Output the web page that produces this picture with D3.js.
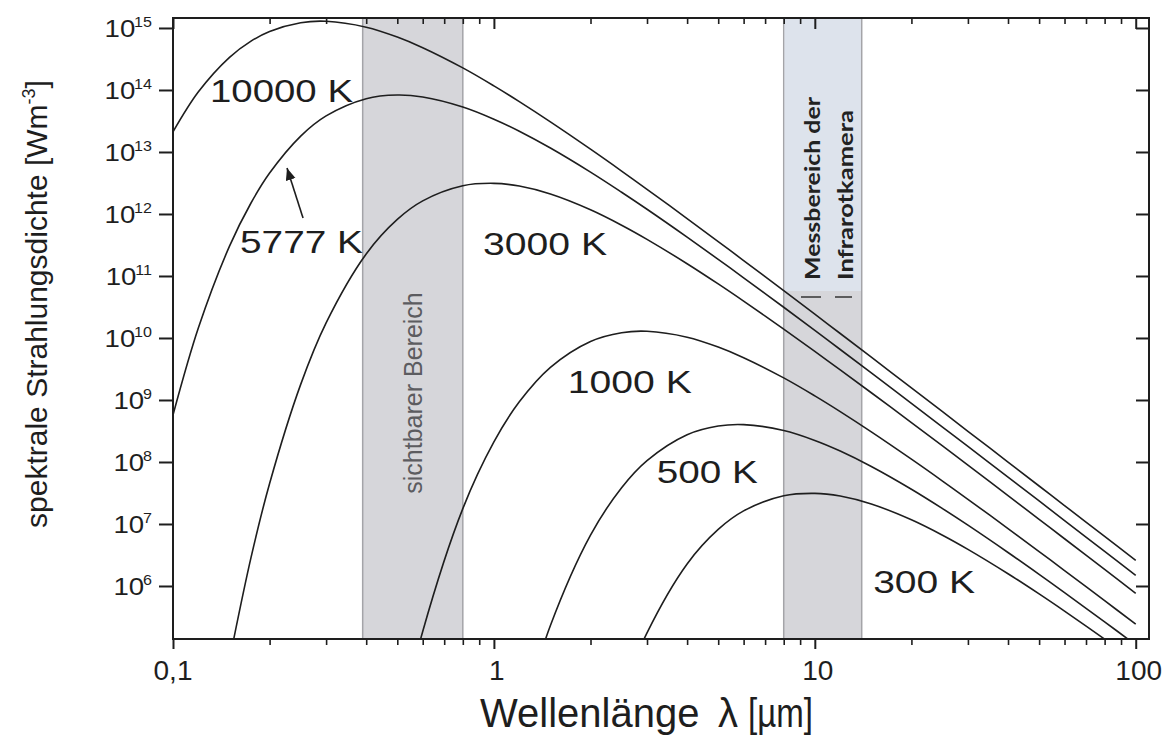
<!DOCTYPE html>
<html>
<head>
<meta charset="utf-8">
<script src="https://cdn.jsdelivr.net/npm/d3@7"></script>
<style>
html,body{margin:0;padding:0;background:#fff;}
svg{display:block;font-family:"Liberation Sans",Arial,Helvetica,sans-serif;}
</style>
</head>
<body>
<svg id="chart" width="1176" height="735"></svg>
<script>
// ---------------- data ----------------
const wavelengths = [0.1,0.12,0.15,0.175,0.2,0.25,0.3,0.4,0.5,0.6,0.8,1,1.2,1.5,2,2.5,3,4,5,6,8,10,12,15,20,25,30,40,50,60,80,100]; // µm
const temperatures = ["10000 K","5777 K","3000 K","1000 K","500 K","300 K"];
const T10000 = [2.11e13,9.33e13,3.36e14,6.13e14,8.79e14,1.217e15,1.283e15,1.030e15,7.14e14,4.81e14,2.27e14,1.164e14,6.49e13,3.06e13,1.110e13,4.93e12,2.50e12,8.44e11,3.59e11,1.776e11,5.80e10,2.42e10,1.181e10,4.90e9,1.568e9,6.47e8,3.13e8,9.98e7,4.10e7,1.983e7,6.30e6,2.58e6];
const T5777  = [5.71e8,1.457e10,3.03e11,1.503e12,4.57e12,1.806e13,3.82e13,7.24e13,8.28e13,7.70e13,5.31e13,3.38e13,2.16e13,1.157e13,4.73e12,2.24e12,1.191e12,4.23e11,1.855e11,9.35e10,3.13e10,1.323e10,6.52e9,2.73e9,8.82e8,3.66e8,1.779e8,5.69e7,2.35e7,1.136e7,3.61e6,1.484e6];
const T3000  = [null,null,6.41e4,2.86e6,4.50e7,1.786e9,1.756e10,2.27e11,8.18e11,1.626e12,2.85e12,3.12e12,2.82e12,2.10e12,1.170e12,6.60e11,3.90e11,1.577e11,7.44e10,3.93e10,1.391e10,6.08e9,3.06e9,1.308e9,4.32e8,1.812e8,8.88e7,2.87e7,1.190e7,5.78e6,1.849e6,7.62e5];
const T1000  = [null,null,null,null,null,null,null,null,3.81e3,1.85e5,1.77e7,2.11e8,9.33e8,3.36e9,8.79e9,1.217e10,1.283e10,1.030e10,7.14e9,4.81e9,2.27e9,1.164e9,6.49e8,3.06e8,1.110e8,4.93e7,2.50e7,8.44e6,3.59e6,1.776e6,5.80e5,2.42e5];
const T500   = [null,null,null,null,null,null,null,null,null,null,null,null,5.79e3,2.30e5,6.60e6,3.84e7,1.051e8,2.75e8,3.80e8,4.01e8,3.22e8,2.23e8,1.504e8,8.48e7,3.64e7,1.773e7,9.57e6,3.47e6,1.539e6,7.82e5,2.64e5,1.122e5];
const T300   = [null,null,null,null,null,null,null,null,null,null,null,null,null,null,null,1.786e4,1.756e5,2.27e6,8.18e6,1.626e7,2.85e7,3.12e7,2.82e7,2.10e7,1.170e7,6.60e6,3.90e6,1.577e6,7.44e5,3.93e5,1.391e5,6.08e4];
const seriesValues = [T10000,T5777,T3000,T1000,T500,T300];

const visibleRange = [0.39, 0.8];   // µm
const infraredRange = [8, 14];      // µm
const xTickValues = [0.1, 1, 10, 100];
const xTickLabels = ["0,1", "1", "10", "100"];
const yTickExponents = [6,7,8,9,10,11,12,13,14,15];

// ---------------- layout ----------------
const W = 1176, H = 735;
const m = {left:173, right:27, top:18, bottom:96};
const X0 = m.left, X1 = W - m.right, Y0 = m.top, Y1 = H - m.bottom;
const INK = "#1e1e1e";

const svg = d3.select("#chart");
const x = d3.scaleLog().domain([0.1, 110]).range([X0, X1]);
const y = d3.scaleLog().domain([Math.pow(10,5.145), Math.pow(10,15.161)]).range([Y1, Y0]);

svg.append("rect").attr("width",W).attr("height",H).attr("fill","#fff");

svg.append("defs").append("clipPath").attr("id","plotclip")
  .append("rect").attr("x",X0).attr("y",Y0).attr("width",X1-X0).attr("height",Y1-Y0);
svg.select("defs").append("marker").attr("id","arrow")
  .attr("markerUnits","userSpaceOnUse").attr("markerWidth",14).attr("markerHeight",12)
  .attr("refX",12).attr("refY",5).attr("orient","auto")
  .append("path").attr("d","M0,0 L12,5 L0,10 Z").attr("fill",INK);

// ---------------- bands ----------------
const bands = svg.append("g");
function band(r){
  const xa = x(r[0]), xb = x(r[1]);
  bands.append("rect").attr("x",xa).attr("y",Y0).attr("width",xb-xa).attr("height",Y1-Y0)
    .attr("fill","#d6d6da");
  [xa,xb].forEach(xx => bands.append("line").attr("x1",xx).attr("x2",xx).attr("y1",Y0).attr("y2",Y1)
    .attr("stroke","#a4a4a8").attr("stroke-width",1.5));
  return [xa,xb];
}
band(visibleRange);
const ir = band(infraredRange);
bands.append("rect").attr("x",ir[0]+0.8).attr("y",Y0).attr("width",ir[1]-ir[0]-1.6).attr("height",291-Y0)
  .attr("fill","#dde3ec");

// ---------------- curves ----------------
const plot = svg.append("g").attr("clip-path","url(#plotclip)");
const line = d3.line().x(d=>x(d[0])).y(d=>y(d[1])).curve(d3.curveCatmullRom.alpha(0.5));
seriesValues.forEach(vals => {
  const pts = wavelengths.map((l,i)=>[l, vals[i]]).filter(p => p[1] != null);
  plot.append("path").attr("d", line(pts)).attr("fill","none")
    .attr("stroke",INK).attr("stroke-width",1.6);
});

// ---------------- axes ----------------
const xMinor = x.ticks().filter(v => xTickValues.indexOf(v) < 0 && v < 100.5);
const yMajor = yTickExponents.map(e => Math.pow(10,e));

function styleAxis(g, w){
  g.select(".domain").remove();
  g.selectAll(".tick line").attr("stroke",INK).attr("stroke-width",w);
  g.selectAll(".tick text").remove();
}
// bottom (outward)
styleAxis(svg.append("g").attr("transform",`translate(0,${Y1})`).call(d3.axisBottom(x).tickValues(xMinor).tickSize(6)), 1.6);
styleAxis(svg.append("g").attr("transform",`translate(0,${Y1})`).call(d3.axisBottom(x).tickValues(xTickValues).tickSize(10)), 2);
// top (inward)
styleAxis(svg.append("g").attr("transform",`translate(0,${Y0})`).call(d3.axisBottom(x).tickValues(xMinor).tickSize(6)), 1.6);
styleAxis(svg.append("g").attr("transform",`translate(0,${Y0})`).call(d3.axisBottom(x).tickValues(xTickValues).tickSize(11)), 2);
// left (outward)
styleAxis(svg.append("g").attr("transform",`translate(${X0},0)`).call(d3.axisLeft(y).tickValues(yMajor).tickSize(14)), 2);
// right (inward)
styleAxis(svg.append("g").attr("transform",`translate(${X1},0)`).call(d3.axisLeft(y).tickValues(yMajor).tickSize(13)), 2);

// frame
svg.append("rect").attr("x",X0).attr("y",Y0).attr("width",X1-X0).attr("height",Y1-Y0)
  .attr("fill","none").attr("stroke",INK).attr("stroke-width",2);

// y tick labels 10^n
yTickExponents.forEach(e => {
  const g = svg.append("g").attr("transform",`translate(152,${y(Math.pow(10,e))}) scale(1.15,1)`);
  const t = g.append("text").attr("text-anchor","end").attr("y",9).attr("font-size",24).attr("fill",INK);
  t.append("tspan").text("10");
  t.append("tspan").attr("font-size",14).attr("dy",-10).attr("dx",-1).text(e);
});
// x tick labels
xTickValues.forEach((v,i) => {
  svg.append("text").attr("x",x(v)+(i===0?0:3)).attr("y",680).attr("text-anchor","middle")
    .attr("font-size",28).attr("fill",INK).text(xTickLabels[i]);
});

// axis titles
svg.append("text").attr("x",480).attr("y",727).attr("font-size",40).attr("fill",INK).text("Wellenlänge");
svg.append("text").attr("x",718).attr("y",727).attr("font-size",40).attr("fill",INK).text("λ");
svg.append("text").attr("x",748).attr("y",727).attr("font-size",40).attr("fill",INK)
  .attr("textLength",65).attr("lengthAdjust","spacingAndGlyphs").text("[µm]");

const yt = svg.append("g").attr("transform","translate(47,304) rotate(-90)")
  .append("text").attr("text-anchor","middle").attr("font-size",30).attr("fill",INK);
yt.append("tspan").text("spektrale Strahlungsdichte [Wm");
yt.append("tspan").attr("font-size",18).attr("dy",-12).text("-3");
yt.append("tspan").attr("dy",12).text("]");

// band labels
svg.append("g").attr("transform","translate(422,393) rotate(-90)")
  .append("text").attr("text-anchor","middle").attr("font-size",25).attr("fill","#5c5c60")
  .text("sichtbarer Bereich");
[["Messbereich der",820,183],["Infrarotkamera",853,170]].forEach(d => {
  svg.append("g").attr("transform",`translate(${d[1]},280) rotate(-90)`)
    .append("text").attr("font-family","Lato, 'Open Sans', sans-serif").attr("font-weight","bold")
    .attr("font-size",21).attr("fill","#222").attr("textLength",d[2]).attr("lengthAdjust","spacingAndGlyphs")
    .text(d[0]);
});
[[801,821],[835,852]].forEach(d => svg.append("line").attr("x1",d[0]).attr("x2",d[1]).attr("y1",297).attr("y2",297)
  .attr("stroke","#333").attr("stroke-width",1.5));

// curve labels (anchored in data coordinates)
const curveLabels = [
  {i:0, at:[0.1304, 6.4e13], w:143},
  {i:1, at:[0.1617, 2.35e11], w:123},
  {i:2, at:[0.925, 2.18e11], w:124},
  {i:3, at:[1.70, 1.30e9], w:124},
  {i:4, at:[3.22, 4.58e7], w:101},
  {i:5, at:[15.2, 7.7e5], w:102}
];
curveLabels.forEach(c => {
  svg.append("text").attr("x",x(c.at[0])).attr("y",y(c.at[1])).attr("font-size",32).attr("fill",INK)
    .attr("textLength",c.w).attr("lengthAdjust","spacingAndGlyphs").text(temperatures[c.i]);
});

// arrow to the 5777 K curve
const arrowFrom = [0.2542, 8.6e11], arrowTo = [0.2266, 5.5e12];
svg.append("line").attr("x1",x(arrowFrom[0])).attr("y1",y(arrowFrom[1]))
  .attr("x2",x(arrowTo[0])).attr("y2",y(arrowTo[1]))
  .attr("stroke",INK).attr("stroke-width",1.6).attr("marker-end","url(#arrow)");
</script>
</body>
</html>
